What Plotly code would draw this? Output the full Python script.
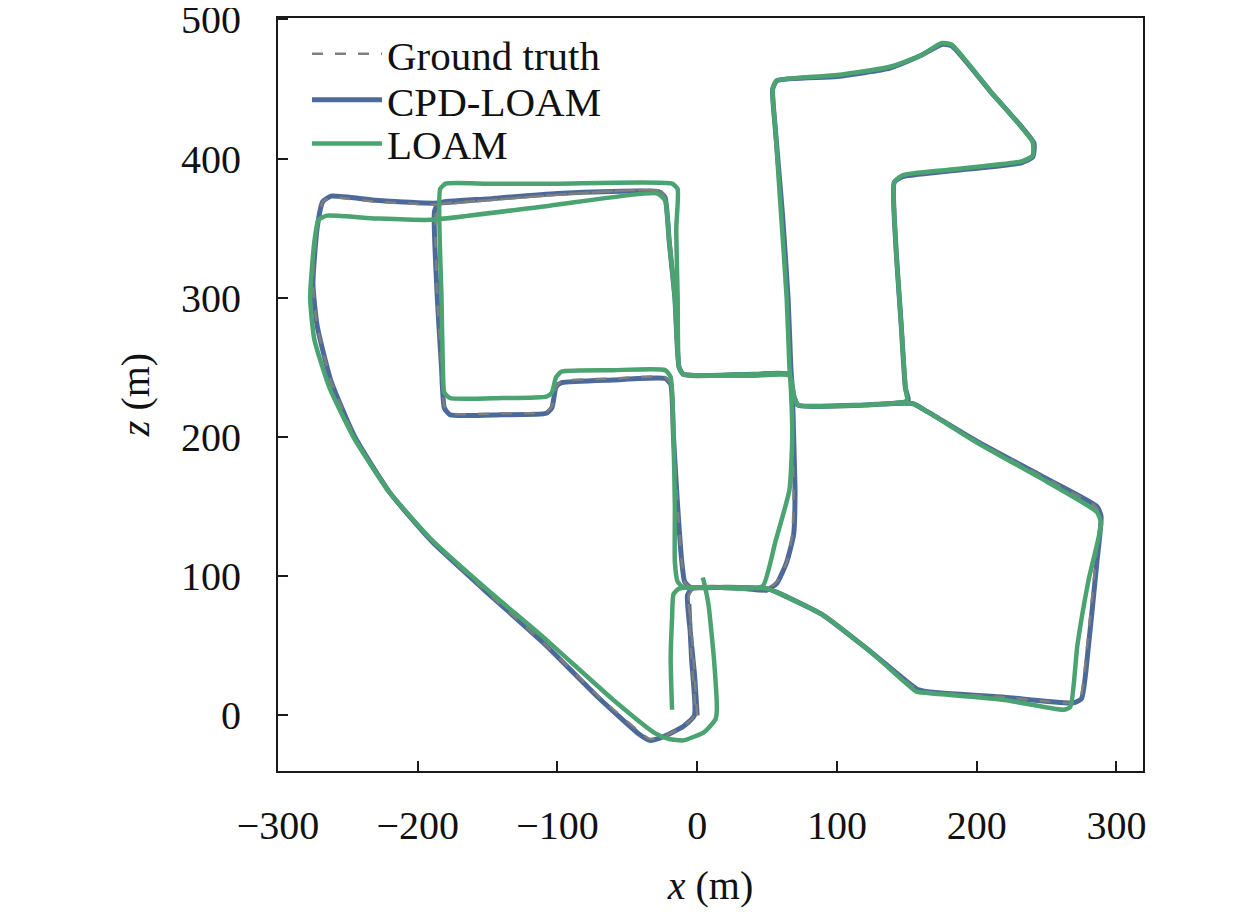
import plotly.graph_objects as go

# Ground truth trajectory (x, z) in metres
gt_x = [0, -2, -4, -6, -3, 10, 35, 50,
        57, 64, 68, 69, 68, 67, 66,
        64, 60, 56, 54, 57, 100, 138, 160, 175, 182, 210, 240, 240, 232, 180, 147, 141,
        142, 146, 149, 150,
        120, 80, 72, 69, 66,
        40, 0, -10, -13,
        -16, -20, -23, -27,
        -100, -150, -184,
        -187, -186, -183, -181, -177, -140, -108, -104, -101, -97, -60, -23, -19,
        -17, -14, -11, -9, -5,
        20, 50,
        58, 90, 125, 157, 165, 220, 268, 274, 279, 285, 288, 285, 250, 200, 165, 154,
        120, 80, 72, 69, 66,
        40, 0, -10, -13,
        -16, -20, -23, -27,
        -100, -150, -187, -230, -262, -268,
        -272, -275, -272, -262, -245, -220, -190, -150, -110, -70, -40, -34, -26,
        -10, -2, -4, -6]
gt_z = [0, 30, 60, 86, 91, 92, 91, 91,
        96, 110, 130, 160, 200, 235, 250,
        300, 360, 420, 450, 456, 460, 466, 474, 483, 482, 448, 412, 402, 398, 392, 388, 383,
        340, 280, 235, 226,
        223, 222, 223, 230, 245,
        245, 245, 246, 250,
        300, 340, 372, 377,
        374, 370, 367,
        362, 300, 250, 222, 217, 217, 218, 222, 236, 240, 242, 243, 238,
        200, 150, 110, 96, 92,
        92, 91,
        88, 72, 45, 19, 17, 13, 9, 12, 50, 110, 143, 150, 170, 197, 218, 224,
        223, 222, 223, 230, 245,
        245, 245, 246, 250,
        300, 340, 372, 377,
        374, 370, 367, 369, 372, 369,
        350, 310, 280, 240, 200, 160, 125, 88, 52, 13, -13, -17, -16,
        -8, 0, 40, 80]

# CPD-LOAM estimate
cpd_x = [0, -2, -5, -7, -4, 10, 35, 50,
         57, 64, 69, 70, 69, 68, 67,
         65, 61, 56, 54, 57, 100, 138, 160, 175, 182, 210, 241, 240, 232, 180, 147, 141,
         142, 146, 149, 151,
         120, 80, 72, 69, 66,
         40, 0, -10, -13,
         -16, -20, -23, -27,
         -100, -150, -185,
         -188, -186, -183, -181, -177, -140, -108, -104, -101, -97, -60, -23, -19,
         -17, -14, -11, -9, -5,
         20, 50,
         58, 90, 125, 157, 165, 220, 269, 275, 280, 286, 289, 286, 250, 200, 165, 154,
         120, 80, 72, 69, 66,
         40, 0, -10, -13,
         -16, -20, -23, -27,
         -100, -150, -186, -230, -262, -268,
         -272, -275, -272, -262, -245, -220, -190, -150, -110, -71, -41, -34, -26,
         -10, -2, -4, -6]
cpd_z = [0, 30, 60, 86, 91, 92, 91, 90,
         95, 110, 130, 160, 200, 235, 250,
         300, 360, 420, 450, 456, 459, 465, 474, 482, 481, 448, 411, 401, 397, 391, 387, 383,
         340, 280, 235, 226,
         223, 222, 223, 230, 245,
         245, 244, 245, 250,
         300, 340, 372, 376,
         375, 371, 368,
         362, 300, 250, 221, 216, 216, 217, 221, 236, 239, 241, 242, 238,
         200, 150, 110, 96, 92,
         92, 91,
         88, 72, 45, 19, 17, 13, 9, 12, 50, 110, 143, 150, 170, 197, 218, 224,
         223, 222, 223, 230, 245,
         245, 244, 245, 250,
         300, 340, 372, 376,
         375, 371, 368, 370, 373, 369,
         350, 310, 280, 240, 200, 160, 125, 88, 52, 13, -14, -18, -16,
         -8, 0, 40, 80]

# LOAM estimate
loam_x = [-18, -19, -18, -17, -13, 10, 35, 47,
          56, 66, 68, 67, 66,
          64, 60, 56, 54, 57, 100, 138, 160, 175, 182, 210, 240, 240, 232, 180, 147, 141,
          142, 146, 149, 150,
          120, 80, 72, 69, 66,
          40, 0, -10, -13,
          -14, -15, -14, -18,
          -100, -150, -180, -184,
          -183, -182, -181, -177, -140, -108, -104, -101, -97, -60, -23, -19,
          -17, -16, -16, -14, -10,
          20, 50,
          58, 90, 125, 157, 165, 220, 262, 267, 272, 280, 289, 286, 250, 200, 165, 154,
          120, 80, 72, 69, 66,
          40, 0, -10, -13,
          -16, -20, -23, -29,
          -107, -191, -230, -265, -271,
          -274, -277, -274, -263, -245, -220, -190, -150, -110, -60, -30, -20, -10,
          5, 13, 14, 12, 8, 5, 4]
loam_z = [4, 40, 70, 87, 91, 92, 91, 93,
          125, 162, 200, 235, 250,
          300, 360, 420, 450, 456, 460, 466, 474, 483, 482, 448, 412, 402, 398, 392, 388, 383,
          340, 280, 235, 226,
          223, 222, 223, 230, 244,
          244, 244, 245, 250,
          300, 350, 378, 382,
          382, 382, 382, 378,
          300, 250, 232, 228, 228, 229, 232, 243, 247, 248, 248, 243,
          200, 150, 110, 96, 92,
          92, 91,
          88, 72, 45, 17, 16, 11, 4, 6, 50, 97, 138, 146, 168, 196, 218, 224,
          223, 222, 223, 230, 245,
          245, 244, 245, 250,
          300, 340, 370, 375,
          366, 356, 357, 359, 356,
          340, 300, 270, 235, 198, 160, 126, 90, 56, 11, -13, -17, -18,
          -12, -3, 3, 40, 80, 95, 99]

serif = "Liberation Serif"

fig = go.Figure()

fig.add_trace(go.Scatter(x=cpd_x, y=cpd_z, mode="lines", name="CPD-LOAM", legend="legend2",
                         line=dict(color="#4c6a99", width=5, shape="spline", smoothing=0.5)))
fig.add_trace(go.Scatter(x=gt_x, y=gt_z, mode="lines", name="Ground truth", legend="legend",
                         line=dict(color="#7f7f7f", width=2.5, dash="11px,12px",
                                   shape="spline", smoothing=0.5)))
fig.add_trace(go.Scatter(x=loam_x, y=loam_z, mode="lines", name="LOAM", legend="legend3",
                         line=dict(color="#4aa370", width=4.5, shape="spline", smoothing=0.5)))

axis_style = dict(
    showgrid=False, zeroline=False,
    showline=True, linecolor="#1a1a1a", linewidth=2, mirror=True,
    ticks="inside", ticklen=10, tickwidth=2, tickcolor="#1a1a1a",
    ticklabeloverflow="allow",
    tickfont=dict(family=serif, size=40, color="#111111"),
)

fig.update_xaxes(axis_style, range=[-300, 319], tickvals=[-300, -200, -100, 0, 100, 200, 300],
                 ticklabelstandoff=18,
                 title=dict(text="<i>x</i> (m)", font=dict(family=serif, size=40, color="#111111"),
                            standoff=24))
fig.update_yaxes(axis_style, range=[-40, 501], tickvals=[0, 100, 200, 300, 400, 500],
                 ticklabelstandoff=27,
                 title=dict(text="<i>z</i> (m)", font=dict(family=serif, size=40, color="#111111"),
                            standoff=19))

# one legend per entry so the row spacing can follow the reference
leg = dict(x=0.0335, xanchor="left", yanchor="middle", bgcolor="rgba(0,0,0,0)",
           font=dict(family=serif, size=41, color="#111111"), itemwidth=70)

# page body adds an 8px offset, so the figure is sized to fit the window
fig.update_layout(
    width=1251, height=909,
    margin=dict(l=270, r=116, t=10, b=146, autoexpand=False),
    plot_bgcolor="white", paper_bgcolor="white",
    font=dict(family=serif, size=40, color="#111111"),
    showlegend=True,
    legend=dict(leg, y=0.952),
    legend2=dict(leg, y=0.891),
    legend3=dict(leg, y=0.833),
)

fig.write_html("out.html")
